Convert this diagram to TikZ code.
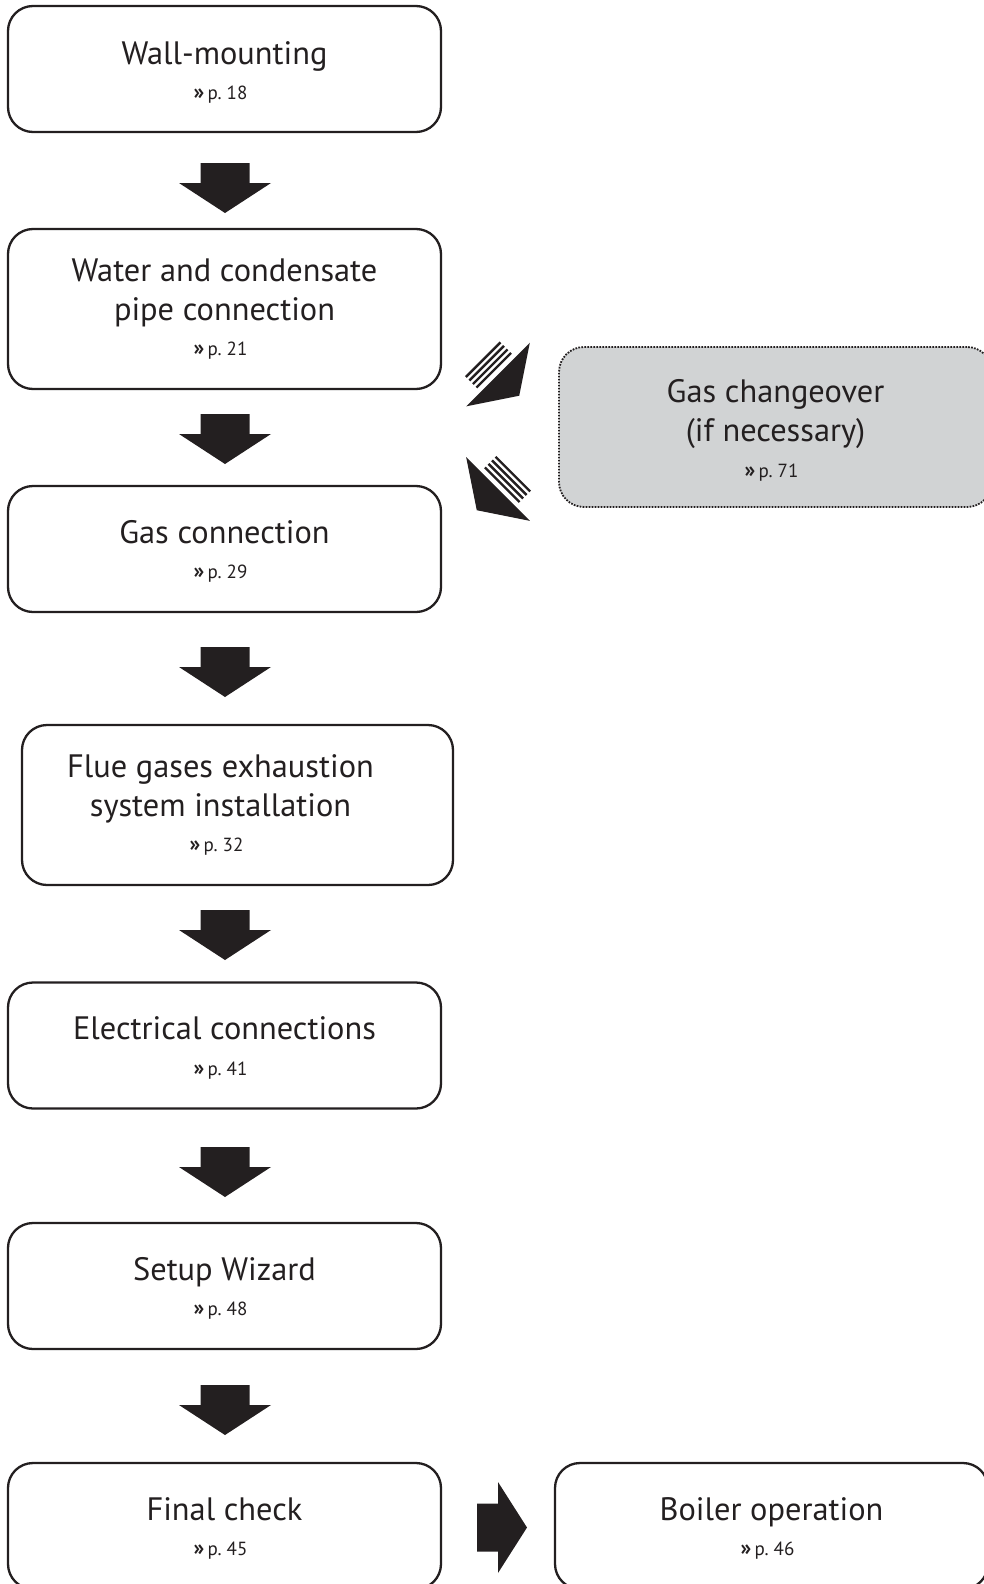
\documentclass[tikz,border=0pt]{standalone}
\usepackage{fontspec}
\setmainfont{PT Sans}
\definecolor{ink}{HTML}{231F20}
\definecolor{greyfill}{HTML}{D1D3D4}
\newcommand\titlefont{\fontsize{16.2pt}{19.7pt}\selectfont}
\newcommand\reffont{\fontsize{9.5pt}{11pt}\selectfont}
\newcommand\pref[1]{{\reffont{\bfseries\fontsize{11pt}{11pt}\selectfont »}\,p.~#1}\kern4pt}
\newcommand\topstrut{\rule{0pt}{13.9pt}}
\begin{document}
\begin{tikzpicture}[x=0.5pt,y=-0.5pt,
  stepbox/.style={draw=ink, line width=1.15pt, rounded corners=12.5pt,
    minimum width=216.5pt, minimum height=63pt, align=center,
    font=\titlefont, text=ink, inner sep=0pt},
  tallbox/.style={stepbox, minimum height=80pt},
  optbox/.style={tallbox, fill=greyfill, dash pattern=on 0.85pt off 0.65pt,
    line width=0.9pt},
  downblock/.pic={\fill[ink] (-24.5,0) -- (24.5,0) -- (24.5,20) -- (46,20)
    -- (0,50) -- (-46,20) -- (-24.5,20) -- cycle;},
  rightblock/.pic={\fill[ink] (0,-24) -- (21,-24) -- (21,-45.5) -- (50,0)
    -- (21,45.5) -- (21,24) -- (0,24) -- cycle;},
  stripedarrow/.pic={\fill[ink] (-45,0) -- (45,0) -- (0,30) -- cycle;
    \foreach \k in {6,11,16,21}{\draw[ink, line width=1.2pt] (-24.5,-\k) -- (24.5,-\k);}},
]
\useasboundingbox (0,0) rectangle (984,1584);
\clip (0,0) rectangle (984,1584);

\node[stepbox] (w1) at (224.5,69) {\rule{0pt}{15pt}Wall-mounting\\[-2pt]\pref{18}};
\node[tallbox] (w2) at (224.5,309) {Water and condensate\\pipe connection\\[-2pt]\pref{21}};
\node[stepbox] (w3) at (224.5,549) {\topstrut Gas connection\\[-2pt]\pref{29}};
\node[tallbox, minimum width=215.5pt] (w4) at (237.5,805) {\kern-17pt Flue gases exhaustion\\\kern-17pt system installation\\[-2pt]\kern-17pt\pref{32}};
\node[stepbox] (w5) at (224.5,1045.5) {\topstrut Electrical connections\\[-2pt]\pref{41}};
\node[stepbox] (w6) at (224.5,1286) {\topstrut Setup Wizard\\[-2pt]\pref{48}};
\node[stepbox] (w7) at (224.5,1526) {\topstrut Final check\\[-2pt]\pref{45}};
\node[stepbox] (boiler) at (771.5,1526) {\topstrut Boiler operation\\[-2pt]\pref{46}};
\node[optbox] (gas) at (775.5,427) {\rule{0pt}{14.7pt}Gas changeover\\(if necessary)\\[-2pt]\pref{71}};

\pic at (225,163) {downblock};
\pic at (225,414) {downblock};
\pic at (225,647) {downblock};
\pic at (225,910) {downblock};
\pic at (225,1147) {downblock};
\pic at (225,1385) {downblock};
\pic at (477,1527.5) {rightblock};
\pic[rotate=45] at (498,374.5) {stripedarrow};
\pic[rotate=-45] at (498,489) {stripedarrow};
\end{tikzpicture}
\end{document}
